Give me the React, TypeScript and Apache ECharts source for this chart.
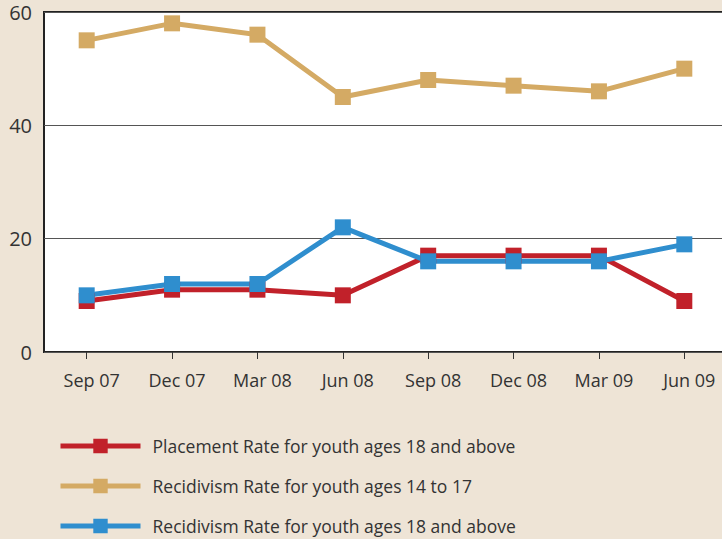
import React, { useEffect, useRef } from "react";
import * as echarts from "echarts";

const categories = ["Sep 07", "Dec 07", "Mar 08", "Jun 08", "Sep 08", "Dec 08", "Mar 09", "Jun 09"];
const placement18 = [9, 11, 11, 10, 17, 17, 17, 9];
const recid14to17 = [55, 58, 56, 45, 48, 47, 46, 50];
const recid18 = [10, 12, 12, 22, 16, 16, 16, 19];
const yTicks = { min: 0, max: 60, interval: 20 };

const FONT = "'Open Sans', Lato, sans-serif";
const TEXT = "#333333";

export default function App() {
  const ref = useRef<HTMLDivElement>(null);
  useEffect(() => {
    if (!ref.current) return;
    const chart = echarts.init(ref.current, undefined, { renderer: "svg" });
    const mk = (name: string, data: number[], color: string) => ({
      name,
      type: "line",
      data,
      symbol: "rect",
      symbolSize: 16,
      lineStyle: { color, width: 5 },
      itemStyle: { color },
      z: 3,
    });
    chart.setOption({
      animation: false,
      backgroundColor: "#EEE4D6",
      textStyle: { fontFamily: FONT },
      grid: {
        left: 44,
        top: 12,
        width: 683,
        height: 340,
        show: true,
        backgroundColor: "#ffffff",
        borderColor: "#222222",
        borderWidth: 2,
      },
      xAxis: {
        type: "category",
        data: categories,
        boundaryGap: true,
        offset: 10,
        axisLine: { show: false },
        axisTick: { show: true, alignWithLabel: true, length: 7, lineStyle: { color: "#333", width: 1 } },
        axisLabel: { color: TEXT, fontSize: 18, fontFamily: FONT, margin: 9, padding: [0, 0, 0, 10] },
      },
      yAxis: {
        type: "value",
        min: yTicks.min,
        max: yTicks.max,
        interval: yTicks.interval,
        axisLine: { show: false },
        axisTick: { show: false },
        axisLabel: { color: TEXT, fontSize: 20, fontFamily: FONT, margin: 12, padding: [10, 0, 0, 0] },
        splitLine: { show: true, lineStyle: { color: "#555555", width: 1 } },
      },
      legend: {
        orient: "vertical",
        left: 58,
        top: 437,
        padding: 0,
        itemWidth: 80,
        itemHeight: 18,
        itemGap: 22,
        lineStyle: { width: 5 },
        textStyle: { color: TEXT, fontSize: 17.5, lineHeight: 18, fontFamily: FONT, padding: [0, 0, 0, 7] },
        data: [
          "Placement Rate for youth ages 18 and above",
          "Recidivism Rate for youth ages 14 to 17",
          "Recidivism Rate for youth ages 18 and above",
        ],
      },
      series: [
        mk("Placement Rate for youth ages 18 and above", placement18, "#C1212A"),
        mk("Recidivism Rate for youth ages 14 to 17", recid14to17, "#D4AA64"),
        mk("Recidivism Rate for youth ages 18 and above", recid18, "#2F8ECE"),
      ],
    });
    return () => chart.dispose();
  }, []);
  return <div ref={ref} style={{ position: "fixed", left: 0, top: 0, width: 740, height: 539 }} />;
}
